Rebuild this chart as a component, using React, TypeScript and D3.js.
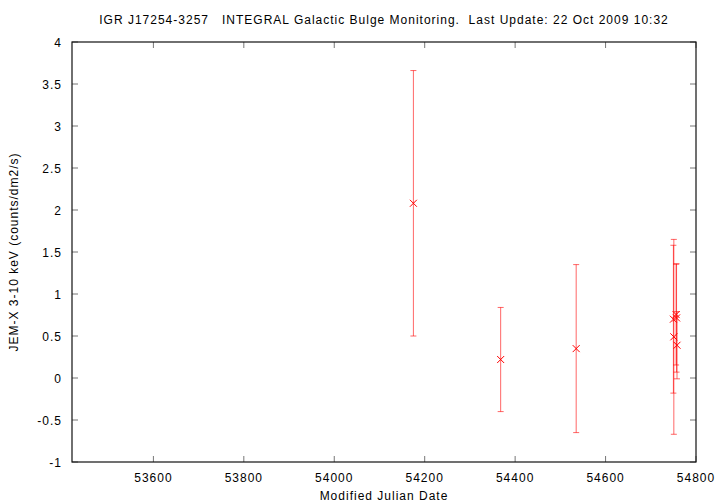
import React from "react";
import * as d3 from "d3";

const mjd = [54175, 54368, 54535, 54750, 54751, 54756, 54757, 54758];
const flux = [2.08, 0.22, 0.35, 0.70, 0.49, 0.755, 0.715, 0.39];
const fluxErr = [1.58, 0.62, 1.0, 0.88, 1.16, 0.6, 0.645, 0.4];

const xTicks = [53600, 53800, 54000, 54200, 54400, 54600, 54800];
const yTicks = [-1, -0.5, 0, 0.5, 1, 1.5, 2, 2.5, 3, 3.5, 4];

const title = "IGR J17254-3257   INTEGRAL Galactic Bulge Monitoring.  Last Update: 22 Oct 2009 10:32";
const xLabel = "Modified Julian Date";
const yLabel = "JEM-X 3-10 keV (counts/dm2/s)";

export default function App() {
  const W = 720, H = 504;
  const left = 72, right = 696, top = 42, bottom = 462;
  const x = d3.scaleLinear().domain([53420, 54800]).range([left, right]);
  const y = d3.scaleLinear().domain([-1, 4]).range([bottom, top]);
  const font = "'Liberation Sans', Arial, sans-serif";
  const fs = 12;
  const ls = 1.0;
  const red = "#ff0000";
  return (
    <svg width={W} height={H} style={{ position: "absolute", left: 0, top: 0, background: "#fff" }}
      fontFamily={font} fontSize={fs}>
      <rect x={0} y={0} width={W} height={H} fill="#fff" />
      <text x={384} y={24} textAnchor="middle" style={{ whiteSpace: "pre", letterSpacing: `${ls}px` }}>{title}</text>
      {xTicks.map((t) => (
        <g key={"x" + t}>
          <line x1={x(t)} x2={x(t)} y1={bottom} y2={bottom - 6} stroke="#777" />
          <line x1={x(t)} x2={x(t)} y1={top} y2={top + 6} stroke="#777" />
          <text x={x(t)} y={482} textAnchor="middle" style={{ letterSpacing: `${ls}px` }}>{String(t)}</text>
        </g>
      ))}
      {yTicks.map((t) => (
        <g key={"y" + t}>
          <line x1={left} x2={left + 6} y1={y(t)} y2={y(t)} stroke="#777" />
          <line x1={right} x2={right - 6} y1={y(t)} y2={y(t)} stroke="#777" />
          <text x={62} y={y(t) + 4.5} textAnchor="end" style={{ letterSpacing: `${ls}px` }}>{String(t)}</text>
        </g>
      ))}
      <rect x={left} y={top} width={right - left} height={bottom - top} fill="none" stroke="#111" strokeWidth={1.2} />
      <text x={384} y={500} textAnchor="middle" style={{ letterSpacing: `${ls}px` }}>{xLabel}</text>
      <text transform={`translate(18,${(top + bottom) / 2}) rotate(-90)`} textAnchor="middle" style={{ letterSpacing: `${ls}px` }}>{yLabel}</text>
      <g stroke={red} strokeOpacity={0.6} strokeWidth={1} fill="none">
        {mjd.map((m, i) => {
          const cx = x(m);
          const yt = y(flux[i] + fluxErr[i]);
          const yb = y(flux[i] - fluxErr[i]);
          return (
            <g key={"e" + i}>
              <line x1={cx} x2={cx} y1={yt} y2={yb} />
              <line x1={cx - 3} x2={cx + 3} y1={yt} y2={yt} />
              <line x1={cx - 3} x2={cx + 3} y1={yb} y2={yb} />
            </g>
          );
        })}
      </g>
      <g stroke={red} strokeWidth={1} fill="none">
        {mjd.map((m, i) => {
          const cx = x(m);
          const cy = y(flux[i]);
          const s = 3.5;
          return (
            <g key={"p" + i}>
              <line x1={cx - s} x2={cx + s} y1={cy - s} y2={cy + s} />
              <line x1={cx - s} x2={cx + s} y1={cy + s} y2={cy - s} />
            </g>
          );
        })}
      </g>
    </svg>
  );
}
